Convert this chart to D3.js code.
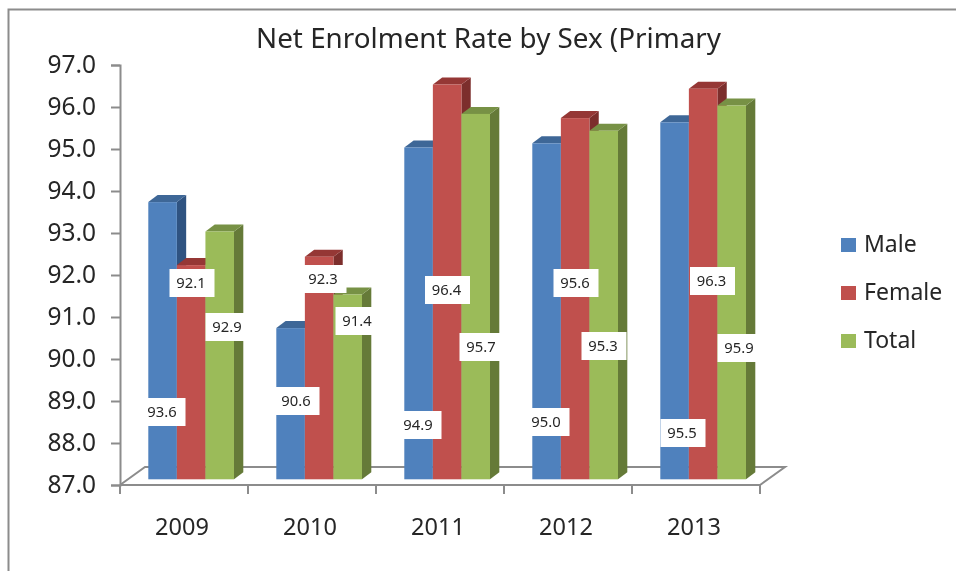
<!DOCTYPE html>
<html>
<head>
<meta charset="utf-8">
<script src="https://cdn.jsdelivr.net/npm/d3@7"></script>
<style>
  html, body { margin: 0; padding: 0; background: #fff; }
  svg { display: block; filter: blur(0.4px); }
  text { font-family: "Noto Sans", sans-serif; fill: #262626; }
</style>
</head>
<body>
<svg id="chart" width="956" height="571"></svg>
<script>
const years = ["2009", "2010", "2011", "2012", "2013"];
const seriesNames = ["Male", "Female", "Total"];
const male = [93.6, 90.6, 94.9, 95.0, 95.5];
const female = [92.1, 92.3, 96.4, 95.6, 96.3];
const total = [92.9, 91.4, 95.7, 95.3, 95.9];
const yTicks = [87, 88, 89, 90, 91, 92, 93, 94, 95, 96, 97];

const seriesValues = { Male: male, Female: female, Total: total };

const frontColor = { Male: "#4f81bd", Female: "#c0504d", Total: "#9bbb59" };
const sideColor = { Male: "#2f5381", Female: "#7c2e2c", Total: "#657a38" };
const topColor = { Male: "#3e6797", Female: "#953735", Total: "#779145" };
const axisColor = "#8c8c8c";

// the data labels were dragged around by hand in the original, so they sit in fixed spots
const labelSpots = {
  Male: [[162, 412], [296, 401], [418, 425], [546, 422], [682, 433]],
  Female: [[191, 283], [323, 279], [446.5, 290], [575, 283], [711.5, 281]],
  Total: [[227, 327], [357, 321], [481, 347], [603, 346], [739, 348]]
};

const svg = d3.select("#chart");

// depth of the fake 3d
const depthX = 9.3;
const depthY = -7;
const floorX = 25;
const floorY = -18;
const barLift = 5.7;

let x0 = d3.scaleBand().domain(years).range([120, 760]);
let x1 = d3.scaleBand().domain(seriesNames).range([28.3, 114]);
let y = d3.scaleLinear().domain([87, 97]).range([485, 65]);

// outer frame
svg.append("path")
  .attr("d", "M8.5,571V9.5H956")
  .attr("fill", "none")
  .attr("stroke", axisColor)
  .attr("stroke-width", 2);

// title
svg.append("text")
  .attr("x", 488.5)
  .attr("y", 48)
  .attr("text-anchor", "middle")
  .style("font-size", "27.8px")
  .text("Net Enrolment Rate by Sex (Primary");

// floor
svg.append("path")
  .attr("d", "M" + x0.range()[0] + "," + y(87)
    + "L" + (x0.range()[0] + floorX) + "," + (y(87) + floorY)
    + "H" + (x0.range()[1] + floorX)
    + "L" + x0.range()[1] + "," + y(87))
  .attr("fill", "none")
  .attr("stroke", axisColor)
  .attr("stroke-width", 2);

// y axis
let yAxis = svg.append("g")
  .attr("transform", "translate(120,0)")
  .call(d3.axisLeft(y).tickValues(yTicks).tickFormat(d3.format(".1f")).tickSize(9).tickSizeOuter(9).tickPadding(15));
yAxis.selectAll("line").attr("stroke", axisColor).attr("stroke-width", 2);
yAxis.select(".domain").attr("stroke", axisColor).attr("stroke-width", 2);
yAxis.selectAll("text").style("font-size", "24.5px").style("font-family", "Noto Sans").attr("fill", "#262626");

// x axis, ticks sit between the categories
let xAxis = svg.append("g");
xAxis.append("line")
  .attr("x1", x0.range()[0]).attr("x2", x0.range()[1])
  .attr("y1", y(87)).attr("y2", y(87))
  .attr("stroke", axisColor).attr("stroke-width", 2);
xAxis.selectAll(".tick")
  .data(years.concat(["end"]))
  .enter()
  .append("line")
  .attr("x1", (d, i) => x0.range()[0] + i * x0.step())
  .attr("x2", (d, i) => x0.range()[0] + i * x0.step())
  .attr("y1", y(87))
  .attr("y2", y(87) + 9)
  .attr("stroke", axisColor).attr("stroke-width", 2);
xAxis.selectAll(".yearLabel")
  .data(years)
  .enter()
  .append("text")
  .attr("x", d => x0(d) + x0.bandwidth() / 2 - 2)
  .attr("y", 535)
  .attr("text-anchor", "middle")
  .style("font-size", "23.5px")
  .text(d => d);

// bars
years.forEach(function(year, i) {
  seriesNames.forEach(function(name) {
    let v = seriesValues[name][i];
    let left = x0(year) + x1(name);
    let right = left + x1.bandwidth();
    let top = y(v) - barLift;
    let bottom = y(87) - barLift;

    svg.append("path")
      .attr("d", "M" + right + "," + top + "L" + (right + depthX) + "," + (top + depthY)
        + "V" + (bottom + depthY) + "L" + right + "," + bottom + "Z")
      .attr("fill", sideColor[name]);
    svg.append("path")
      .attr("d", "M" + left + "," + top + "L" + (left + depthX) + "," + (top + depthY)
        + "H" + (right + depthX) + "L" + right + "," + top + "Z")
      .attr("fill", topColor[name]);
    svg.append("rect")
      .attr("x", left)
      .attr("y", top)
      .attr("width", x1.bandwidth())
      .attr("height", bottom - top)
      .attr("fill", frontColor[name]);
  });
});

// data labels on top of all the bars
seriesNames.forEach(function(name) {
  seriesValues[name].forEach(function(v, i) {
    let spot = labelSpots[name][i];
    svg.append("rect")
      .attr("x", spot[0] - 21.5)
      .attr("y", spot[1] - 14)
      .attr("width", 45)
      .attr("height", 28)
      .attr("fill", "#fff");
    svg.append("text")
      .attr("x", spot[0])
      .attr("y", spot[1] + 5)
      .attr("text-anchor", "middle")
      .style("font-size", "14.8px")
      .text(d3.format(".1f")(v));
  });
});

// legend
let legend = d3.scaleBand().domain(seriesNames).range([228, 372]);
seriesNames.forEach(function(name) {
  svg.append("rect")
    .attr("x", 841)
    .attr("y", legend(name) + 10)
    .attr("width", 15)
    .attr("height", 14)
    .attr("fill", frontColor[name]);
  svg.append("text")
    .attr("x", 864)
    .attr("y", legend(name) + 24)
    .style("font-size", "23px")
    .text(name);
});
</script>
</body>
</html>
